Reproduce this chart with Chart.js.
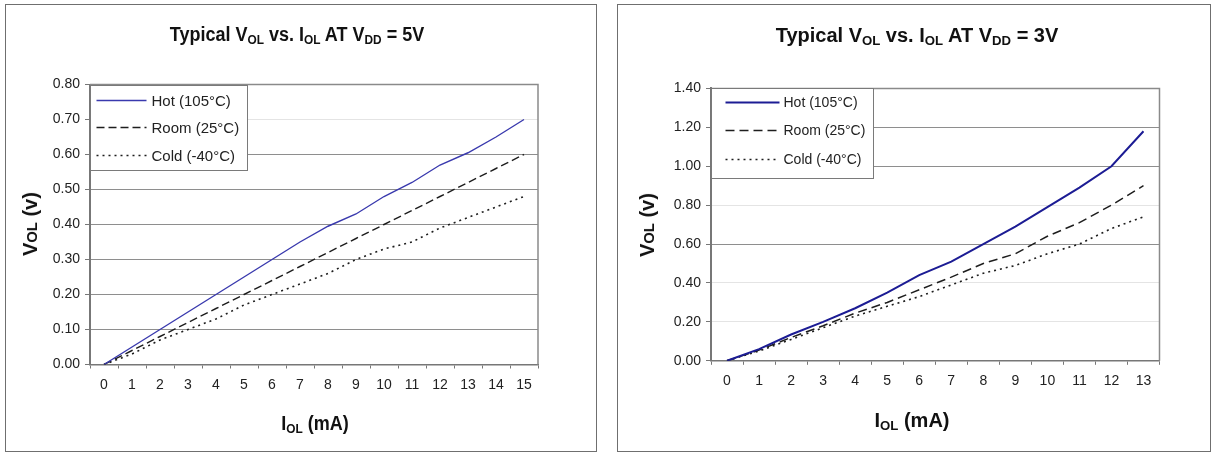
<!DOCTYPE html>
<html>
<head>
<meta charset="utf-8">
<title>Typical VOL vs. IOL</title>
<script src="https://cdn.jsdelivr.net/npm/chart.js@4.4.1/dist/chart.umd.min.js"></script>
<style>
  body { margin: 0; background: #fff; width: 1214px; height: 453px; position: relative; overflow: hidden;
         font-family: "Liberation Sans", Arial, sans-serif; }
  .frame { position: absolute; border: 1px solid #6f6f6f; box-sizing: border-box; }
  canvas { position: absolute; }
  .lbl { position: absolute; font-weight: bold; color: #111; white-space: nowrap; line-height: 1; }
  .lbl sub { font-size: 0.66em; vertical-align: -0.2em; line-height: 0; }
  .lbl .sc { font-size: 0.74em; }
</style>
</head>
<body>
<div class="frame" style="left:5px;top:4px;width:592px;height:448px"></div>
<div class="frame" style="left:617px;top:4px;width:594px;height:448px"></div>
<canvas id="chart5v" width="590" height="446" style="left:6px;top:5px"></canvas>
<canvas id="chart3v" width="592" height="446" style="left:618px;top:5px"></canvas>

<div class="lbl" style="left:297px;top:34px;font-size:20px;transform:translate(-50%,-50%) scaleX(0.9)">Typical V<sub>OL</sub> vs. I<sub>OL</sub> AT V<sub>DD</sub> = 5V</div>
<div class="lbl" style="left:30px;top:224px;font-size:20px;transform:translate(-50%,-50%) rotate(-90deg)">V<span class="sc">OL</span> (v)</div>
<div class="lbl" style="left:315px;top:423px;font-size:20px;transform:translate(-50%,-50%) scaleX(0.9)">I<sub>OL</sub> (mA)</div>

<div class="lbl" style="left:917px;top:35px;font-size:20px;transform:translate(-50%,-50%)">Typical V<sub>OL</sub> vs. I<sub>OL</sub> AT V<sub>DD</sub> = 3V</div>
<div class="lbl" style="left:647px;top:225px;font-size:20px;transform:translate(-50%,-50%) rotate(-90deg)">V<span class="sc">OL</span> (v)</div>
<div class="lbl" style="left:912px;top:420px;font-size:20px;transform:translate(-50%,-50%)">I<sub>OL</sub> (mA)</div>

<script>
// output current, mA
const current5v = ['0', '1', '2', '3', '4', '5', '6', '7', '8', '9', '10', '11', '12', '13', '14', '15'];
const current3v = ['0', '1', '2', '3', '4', '5', '6', '7', '8', '9', '10', '11', '12', '13'];

// VOL at VDD = 5V, volts
const hot5v  = [0, 0.05, 0.10, 0.15, 0.20, 0.25, 0.30, 0.35, 0.395, 0.43, 0.48, 0.52, 0.57, 0.605, 0.65, 0.70];
const room5v = [0, 0.04, 0.08, 0.12, 0.16, 0.20, 0.24, 0.28, 0.32, 0.36, 0.40, 0.44, 0.48, 0.52, 0.56, 0.60];
const cold5v = [0, 0.03, 0.07, 0.10, 0.13, 0.17, 0.20, 0.23, 0.26, 0.30, 0.33, 0.35, 0.39, 0.42, 0.45, 0.48];

// VOL at VDD = 3V, volts
const hot3v  = [0, 0.06, 0.135, 0.20, 0.27, 0.35, 0.44, 0.51, 0.60, 0.69, 0.79, 0.89, 1.00, 1.18];
const room3v = [0, 0.055, 0.12, 0.18, 0.245, 0.30, 0.365, 0.43, 0.50, 0.55, 0.64, 0.71, 0.80, 0.90];
const cold3v = [0, 0.05, 0.11, 0.17, 0.23, 0.28, 0.33, 0.39, 0.45, 0.49, 0.55, 0.60, 0.68, 0.74];

const seriesNames = ['Hot (105°C)', 'Room (25°C)', 'Cold (-40°C)'];

// top and right edges of the plot area
const plotFrame = {
    id: 'plotFrame',
    beforeDatasetsDraw(chart, args, opts) {
        const a = chart.chartArea, ctx = chart.ctx;
        ctx.save();
        ctx.strokeStyle = opts.color;
        ctx.lineWidth = opts.width;
        ctx.beginPath();
        ctx.moveTo(a.left, a.top);
        ctx.lineTo(a.right, a.top);
        ctx.lineTo(a.right, a.bottom);
        ctx.stroke();
        ctx.restore();
    }
};

// boxed legend sitting in the top-left corner of the plot
const boxLegend = {
    id: 'boxLegend',
    afterDatasetsDraw(chart, args, opts) {
        const a = chart.chartArea, ctx = chart.ctx;
        const x0 = Math.round(a.left) + 0.5, y0 = Math.round(a.top) + 0.5;
        ctx.save();
        ctx.fillStyle = '#fff';
        ctx.fillRect(x0, y0, opts.width, opts.height);
        ctx.strokeStyle = '#7a7a7a';
        ctx.lineWidth = 1;
        ctx.strokeRect(x0, y0, opts.width, opts.height);
        ctx.font = opts.font;
        ctx.textBaseline = 'middle';
        chart.data.datasets.forEach((ds, i) => {
            const y = y0 + opts.rows[i];
            ctx.beginPath();
            ctx.setLineDash(ds.borderDash || []);
            ctx.strokeStyle = ds.borderColor;
            ctx.lineWidth = ds.borderWidth;
            ctx.moveTo(x0 + opts.lineFrom, y);
            ctx.lineTo(x0 + opts.lineTo, y);
            ctx.stroke();
            ctx.setLineDash([]);
            ctx.fillStyle = '#222';
            ctx.fillText(ds.label, x0 + opts.textAt, y + 1);
        });
        ctx.restore();
    }
};

function makeChart(id, labels, hot, room, cold, look) {
    const near = (v, list) => list.some(f => Math.abs(f - v) < 1e-6);
    return new Chart(document.getElementById(id), {
        type: 'line',
        data: {
            labels: labels,
            datasets: [
                { label: seriesNames[0], data: hot, borderColor: look.hotColor, borderWidth: look.hotWidth },
                { label: seriesNames[1], data: room, borderColor: '#1e1e1e', borderWidth: look.lineWidth, borderDash: look.dash },
                { label: seriesNames[2], data: cold, borderColor: '#1e1e1e', borderWidth: look.dotWidth, borderDash: [2, 4] }
            ]
        },
        options: {
            responsive: false,
            animation: false,
            devicePixelRatio: 1,
            elements: { point: { radius: 0 }, line: { tension: 0, fill: false } },
            layout: { padding: look.padding },
            plugins: {
                legend: { display: false },
                tooltip: { enabled: false },
                plotFrame: { color: '#8a8a8a', width: 1.5 },
                boxLegend: look.legend
            },
            scales: {
                x: {
                    type: 'category',
                    offset: true,
                    afterFit(scale) { scale.height = 40; },
                    grid: { offset: true, drawOnChartArea: false, tickLength: 4, color: '#777' },
                    border: { color: '#777', width: 1.5 },
                    ticks: { color: '#222', padding: 8, font: { family: 'Liberation Sans', size: 14 }, maxRotation: 0, autoSkip: false }
                },
                y: {
                    min: 0,
                    max: look.yMax,
                    afterFit(scale) { scale.width = 40; },
                    grid: {
                        tickLength: 5,
                        color: ctx => near(ctx.tick.value, look.faint) ? '#e4e4e4' : '#8e8e8e',
                        tickColor: '#777'
                    },
                    border: { color: '#777', width: 2 },
                    ticks: {
                        stepSize: look.yStep,
                        padding: 5,
                        color: '#222',
                        font: { family: 'Liberation Sans', size: 14 },
                        callback: v => v.toFixed(2)
                    }
                }
            }
        },
        plugins: [plotFrame, boxLegend]
    });
}

makeChart('chart5v', current5v, hot5v, room5v, cold5v, {
    hotColor: '#3a3aae', hotWidth: 1.4, lineWidth: 1.4, dotWidth: 1.6, dash: [8, 4],
    yMax: 0.8, yStep: 0.1, faint: [0.7],
    padding: { left: 44, top: 79.5, right: 58, bottom: 46.5 },
    legend: { width: 157, height: 85, rows: [15, 42, 70], lineFrom: 6, lineTo: 56, textAt: 61, font: '15px "Liberation Sans"' }
});

makeChart('chart3v', current3v, hot3v, room3v, cold3v, {
    hotColor: '#1c1c94', hotWidth: 2, lineWidth: 1.5, dotWidth: 1.6, dash: [9, 5],
    yMax: 1.4, yStep: 0.2, faint: [0.2, 0.4, 0.8],
    padding: { left: 53, top: 83.4, right: 50.5, bottom: 50.2 },
    legend: { width: 162, height: 90, rows: [14, 42, 71], lineFrom: 14, lineTo: 68, textAt: 72, font: '14px "Liberation Sans"' }
});
</script>
</body>
</html>
